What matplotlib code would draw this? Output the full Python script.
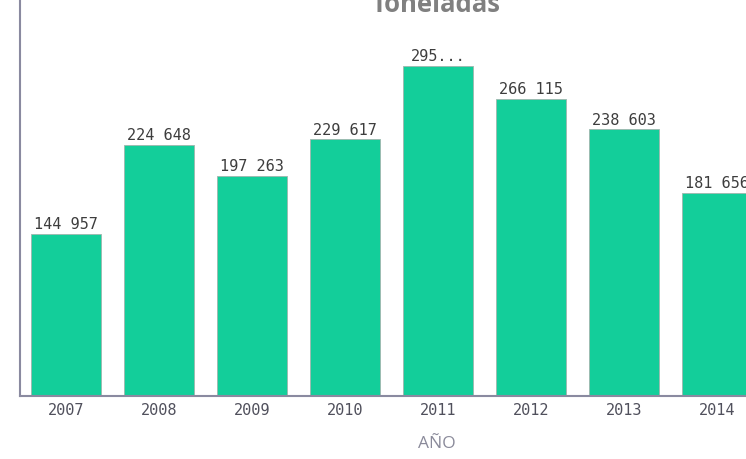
import matplotlib.pyplot as plt

years = ['2007', '2008', '2009', '2010', '2011', '2012', '2013', '2014']
toneladas = [144957, 224648, 197263, 229617, 295400, 266115, 238603, 181656]
# 2011 label is truncated in the original chart
bar_labels = ['144 957', '224 648', '197 263', '229 617', '295...', '266 115', '238 603', '181 656']

fig = plt.figure(figsize=(7.46, 4.59), dpi=100)
ax = fig.add_axes([20 / 746, 63 / 459, 1 - 20 / 746, 1 - 63 / 459])

x = range(len(years))
bars = ax.bar(x, toneladas, width=0.75, color='#13CE9A', edgecolor='#9fb5ad', linewidth=0.6)

for rect, lab in zip(bars, bar_labels):
    ax.text(rect.get_x() + rect.get_width() / 2, rect.get_height() + 1500, lab,
            ha='center', va='bottom', fontsize=11, color='#3d3d3d',
            family='DejaVu Sans Mono', clip_on=False)

ax.set_xlim(-0.495, 7.31)
ax.set_ylim(0, 354300)
ax.set_xticks(list(x))
ax.set_xticklabels(years, fontsize=11, color='#50505c', family='DejaVu Sans Mono')
ax.tick_params(axis='x', length=0, pad=5)
ax.set_yticks([])

for side in ['top', 'right']:
    ax.spines[side].set_visible(False)
for side in ['left', 'bottom']:
    ax.spines[side].set_color('#8a8aa0')
    ax.spines[side].set_linewidth(1.5)

# original chart was wider than this crop, so the axis title sits right of centre
ax.set_xlabel('AÑO', fontsize=12.5, color='#8a8a9a', family='Open Sans')
ax.xaxis.set_label_coords((437 - 20) / 726, -40 / 396)

# title is partly cut off at the top of the image
fig.text(436 / 746, 1 - 12 / 459, 'Toneladas', ha='center', va='baseline',
         fontsize=18.5, fontweight='bold', color='#808080', family='Open Sans')

plt.savefig('out.png', dpi=100)
